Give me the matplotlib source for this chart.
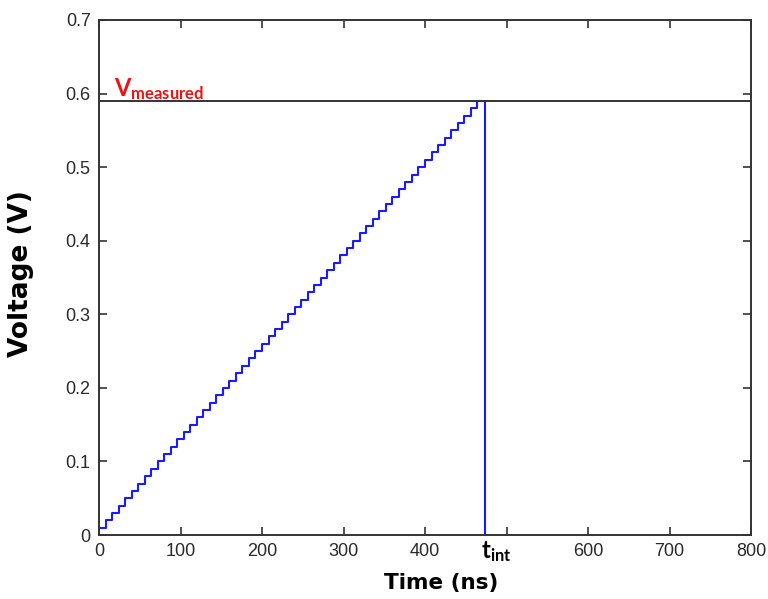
import matplotlib
matplotlib.use("Agg")
import matplotlib.pyplot as plt

# Staircase data (ns, V)
step_start_times = [0, 8, 16, 24, 32, 40, 48, 56, 64, 72, 80, 88, 96, 104, 112,
                    120, 128, 136, 144, 152, 160, 168, 176, 184, 192, 200, 208,
                    216, 224, 232, 240, 248, 256, 264, 272, 280, 288, 296, 304,
                    312, 320, 328, 336, 344, 352, 360, 368, 376, 384, 392, 400,
                    408, 416, 424, 432, 440, 448, 456, 464]
step_voltages = [0.01, 0.02, 0.03, 0.04, 0.05, 0.06, 0.07, 0.08, 0.09, 0.10,
                 0.11, 0.12, 0.13, 0.14, 0.15, 0.16, 0.17, 0.18, 0.19, 0.20,
                 0.21, 0.22, 0.23, 0.24, 0.25, 0.26, 0.27, 0.28, 0.29, 0.30,
                 0.31, 0.32, 0.33, 0.34, 0.35, 0.36, 0.37, 0.38, 0.39, 0.40,
                 0.41, 0.42, 0.43, 0.44, 0.45, 0.46, 0.47, 0.48, 0.49, 0.50,
                 0.51, 0.52, 0.53, 0.54, 0.55, 0.56, 0.57, 0.58, 0.59]
t_int = 474
v_measured = 0.59

x_ticks = [0, 100, 200, 300, 400, 500, 600, 700, 800]
x_ticklabels = ["0", "100", "200", "300", "400", "", "600", "700", "800"]
y_ticks = [0, 0.1, 0.2, 0.3, 0.4, 0.5, 0.6, 0.7]
y_ticklabels = ["0", "0.1", "0.2", "0.3", "0.4", "0.5", "0.6", "0.7"]

plt.rcParams["mathtext.fontset"] = "custom"
plt.rcParams["mathtext.bf"] = "Lato:bold"
plt.rcParams["mathtext.rm"] = "Lato"

fig = plt.figure(figsize=(7.68, 5.99), dpi=100)
ax = fig.add_axes([99 / 768, 1 - 535 / 599, 652 / 768, 515 / 599])

# staircase
xs = [0] + step_start_times + [t_int, t_int]
ys = [0] + step_voltages + [step_voltages[-1], 0]
ax.step(xs, ys, where="post", color="#1a1aff", lw=1.5)

# V_measured line
ax.axhline(v_measured, color="#333333", lw=1.4)

ax.set_xlim(0, 800)
ax.set_ylim(0, 0.7)
ax.set_xticks(x_ticks)
ax.set_xticklabels(x_ticklabels)
ax.set_yticks(y_ticks)
ax.set_yticklabels(y_ticklabels)

ax.tick_params(direction="in", length=6, width=1.2, top=True, right=True,
               labelsize=13, colors="#333333", labelcolor="#2a2a2a")
for lab in ax.get_xticklabels() + ax.get_yticklabels():
    lab.set_fontfamily("Liberation Sans")
ax.tick_params(axis="x", pad=6)
ax.tick_params(axis="y", pad=6)
for s in ax.spines.values():
    s.set_color("#333333")
    s.set_linewidth(1.4)

ax.set_xlabel("Time (ns)", fontsize=15.5, fontweight="bold", family="DejaVu Sans")
ax.xaxis.set_label_coords(0.525, -0.074)
ax.set_ylabel("Voltage (V)", fontsize=19, fontweight="bold", family="DejaVu Sans")
ax.yaxis.set_label_coords(-0.100, 0.507)

ax.text(18, 0.589, r"$\mathbf{V_{measured}}$", color="#ee1111", fontsize=17,
        ha="left", va="bottom")
ax.text(488, -0.006, r"$\mathbf{t_{int}}$", color="black", fontsize=17,
        ha="center", va="top")

fig.savefig("out.png", dpi=100)
